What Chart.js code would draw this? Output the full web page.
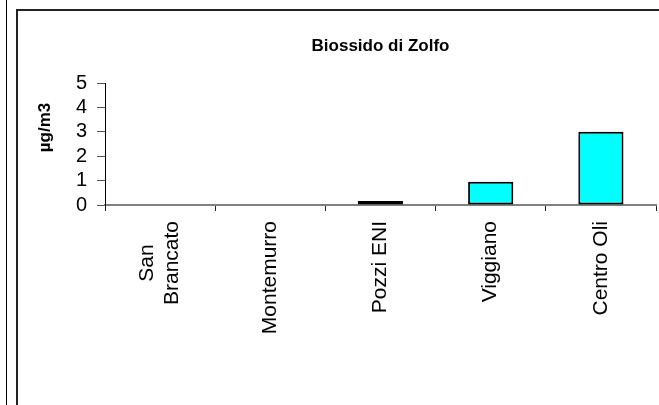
<!DOCTYPE html>
<html>
<head>
<meta charset="utf-8">
<script src="https://cdn.jsdelivr.net/npm/chart.js@4"></script>
<style>
  html, body { margin: 0; padding: 0; background: #fff; overflow: hidden; }
  #lineaSx { position: absolute; left: 6px; top: 0; width: 1px; height: 405px; background: #000; }
  #cornice { position: absolute; left: 16px; top: 9px; width: 660px; height: 420px; border-left: 2px solid #222; border-top: 2px solid #222; }
  #box { position: absolute; left: 0; top: 0; width: 659px; height: 405px; }
</style>
</head>
<body>
<div id="lineaSx"></div>
<div id="cornice"></div>
<div id="box"><canvas id="grafico" width="659" height="405"></canvas></div>
<script>
// stazioni di misura e valori medi (µg/m3)
var stazioni = [['San    ', 'Brancato'], 'Montemurro', 'Pozzi ENI', 'Viggiano', 'Centro Oli'];
var valori = [0, 0, 0.16, 0.95, 3.0];
var tickY = [0, 1, 2, 3, 4, 5];

var font = 'Liberation Sans, Arial, sans-serif';

// centra il titolo sull'area del grafico (come in Excel)
var titoloCentrato = {
  id: 'titoloCentrato',
  afterLayout: function (chart) {
    chart.titleBlock.left = chart.chartArea.left;
    chart.titleBlock.right = chart.chartArea.right;
  }
};

// etichette su due righe: centrate sulla categoria
var etichetteCentrate = {
  id: 'etichetteCentrate',
  beforeDraw: function (chart) {
    var items = chart.scales.x.getLabelItems();
    items.forEach(function (it) {
      if (Array.isArray(it.label) && !it._spostata) {
        it.options.translation[0] -= (it.label.length - 1) * it.font.lineHeight / 2;
        it._spostata = true;
      }
    });
  }
};

var ctx = document.getElementById('grafico').getContext('2d');

var grafico = new Chart(ctx, {
  type: 'bar',
  data: {
    labels: stazioni,
    datasets: [{
      label: 'Biossido di Zolfo',
      data: valori,
      backgroundColor: '#00FFFF',
      borderColor: '#000000',
      borderWidth: 2,
      borderSkipped: false,
      barPercentage: 0.41,
      categoryPercentage: 1
    }]
  },
  options: {
    responsive: false,
    animation: false,
    layout: { padding: { left: 30, right: 3, top: 0, bottom: 0 } },
    plugins: {
      legend: { display: false },
      tooltip: { enabled: false },
      title: {
        display: true,
        text: 'Biossido di Zolfo',
        color: '#000',
        font: { family: font, size: 17, weight: 'bold' },
        padding: { top: 36, bottom: 26.6 }
      }
    },
    scales: {
      x: {
        grid: { drawOnChartArea: false, tickLength: 6, color: '#222', offset: true },
        border: { color: '#808080', width: 2 },
        ticks: {
          color: '#000',
          font: { family: font, size: 21 },
          minRotation: 90,
          maxRotation: 90,
          autoSkip: false,
          padding: 10
        },
        afterFit: function (scale) { scale.height = 200; }
      },
      y: {
        min: 0,
        max: 5,
        grid: { drawOnChartArea: false, tickLength: 8, color: '#555' },
        border: { color: '#000', width: 1 },
        ticks: {
          color: '#000',
          font: { family: font, size: 20 },
          padding: 10,
          autoSkip: false
        },
        title: {
          display: true,
          text: '       µg/m3',
          color: '#000',
          font: { family: font, size: 17, weight: 'bold' },
          padding: { top: 5, bottom: 0 }
        },
        afterBuildTicks: function (scale) {
          scale.ticks = tickY.map(function (v) { return { value: v }; });
        },
        afterFit: function (scale) { scale.width = 75; }
      }
    }
  },
  plugins: [titoloCentrato, etichetteCentrate]
});
</script>
</body>
</html>
